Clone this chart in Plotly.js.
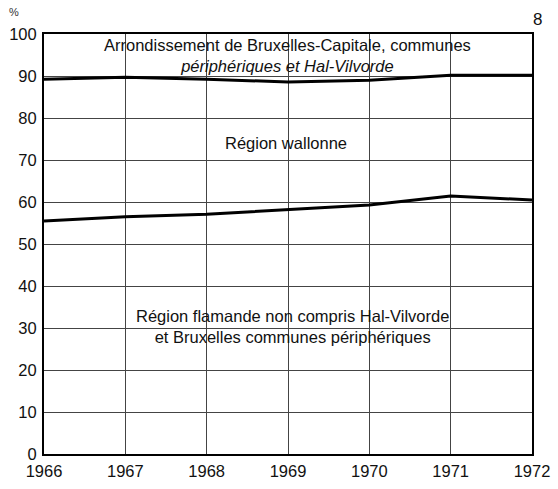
<!DOCTYPE html>
<html>
<head>
<meta charset="utf-8">
<script src="https://cdn.plot.ly/plotly-3.0.1.min.js"></script>
<style>html,body{margin:0;padding:0;background:#fff;}#chart{width:558px;height:489px;}</style>
</head>
<body>
<div id="chart"></div>
<script>
const years = [1966, 1967, 1968, 1969, 1970, 1971, 1972];
const bruxellesBoundary = [89.2, 89.7, 89.2, 88.6, 89.0, 90.2, 90.2];
const flamandeBoundary = [55.5, 56.5, 57.1, 58.2, 59.3, 61.4, 60.5];
const yTicks = [0, 10, 20, 30, 40, 50, 60, 70, 80, 90, 100];
const xTickLabels = ['1966', '1967', '1968', '1969', '1970', '1971', '1972'];

const FONT = 'Liberation Sans, Arial, Helvetica, sans-serif';

const traces = [
  {x: years, y: bruxellesBoundary, mode: 'lines', line: {color: '#000', width: 3}, hoverinfo: 'skip', showlegend: false},
  {x: years, y: flamandeBoundary, mode: 'lines', line: {color: '#000', width: 3}, hoverinfo: 'skip', showlegend: false}
];

const annFont = {family: FONT, size: 16.5, color: '#111'};
const ML = 44, MR = 26, MT = 34, MB = 35, W = 558, H = 489;
const pw = W - ML - MR, ph = H - MT - MB;
const px = v => (v - ML) / pw;
const py = v => (H - MB - v) / ph;

const layout = {
  width: W, height: H,
  margin: {l: ML, r: MR, t: MT, b: MB},
  paper_bgcolor: '#fff', plot_bgcolor: '#fff',
  showlegend: false,
  xaxis: {
    range: [1966, 1972], tickvals: years, ticktext: xTickLabels,
    showgrid: true, gridcolor: '#444', gridwidth: 1,
    zeroline: false, showline: true, linecolor: '#000', linewidth: 2, mirror: true,
    ticks: '', tickfont: {family: FONT, size: 16.5, color: '#111'}, ticklabelstandoff: 1
  },
  yaxis: {
    range: [0, 100], tickvals: yTicks,
    showgrid: true, gridcolor: '#444', gridwidth: 1,
    zeroline: false, showline: true, linecolor: '#000', linewidth: 2, mirror: true,
    ticks: '', tickfont: {family: FONT, size: 16.5, color: '#111'}, ticklabelstandoff: 2
  },
  annotations: [
    {x: 1968.99, y: 94.9, xref: 'x', yref: 'y', align: 'center',
     text: 'Arrondissement de Bruxelles-Capitale, communes<br><i>périphériques et Hal-Vilvorde</i>', showarrow: false, font: annFont},
    {x: 1968.97, y: 74.0, xref: 'x', yref: 'y', text: 'Région wallonne', showarrow: false, font: annFont},
    {x: 1969.05, y: 30.4, xref: 'x', yref: 'y', align: 'center',
     text: 'Région flamande non compris Hal-Vilvorde<br>et Bruxelles communes périphériques', showarrow: false, font: annFont},
    {x: px(14), y: py(12), xref: 'paper', yref: 'paper', xanchor: 'center', yanchor: 'middle', text: '%', showarrow: false, font: {family: FONT, size: 11, color: '#333'}},
    {x: px(537), y: py(20), xref: 'paper', yref: 'paper', xanchor: 'center', yanchor: 'middle', text: '8', showarrow: false, font: {family: FONT, size: 17, color: '#111'}}
  ]
};

Plotly.newPlot('chart', traces, layout, {staticPlot: true, displayModeBar: false});
</script>
</body>
</html>
